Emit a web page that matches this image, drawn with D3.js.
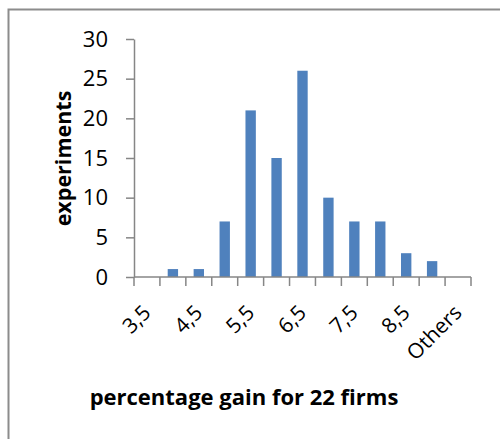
<!DOCTYPE html>
<html>
<head>
<meta charset="utf-8">
<script src="https://cdn.jsdelivr.net/npm/d3@7"></script>
<style>
  html, body { margin: 0; padding: 0; background: #fff; }
  svg { display: block; font-family: "Open Sans", "Noto Sans", sans-serif; }
</style>
</head>
<body>
<svg id="chart" width="500" height="439"></svg>
<script>
// Histogram bins (upper bounds, comma decimals) and counts per bin
const categories = ["3,5", "4", "4,5", "5", "5,5", "6", "6,5", "7", "7,5", "8", "8,5", "9", "Others"];
const counts = [0, 1, 1, 7, 21, 15, 26, 10, 7, 7, 3, 2, 0];
const yTicks = [0, 5, 10, 15, 20, 25, 30];
// Only every other bin gets a visible label
const shownLabels = ["3,5", "4,5", "5,5", "6,5", "7,5", "8,5", "Others"];

const data = categories.map((c, i) => ({ cat: c, value: counts[i] }));

const svg = d3.select("#chart");
const axisColor = "#868686";
const barColor = "#4F81BD";

// Outer chart frame
svg.append("path")
  .attr("d", "M8.5,439 L8.5,9.5 L500,9.5")
  .attr("fill", "none")
  .attr("stroke", "#8c8c8c")
  .attr("stroke-width", 2);

const plot = { left: 134, right: 471, top: 39, bottom: 277 };

const x = d3.scaleBand()
  .domain(categories)
  .range([plot.left, plot.right])
  .paddingInner(0)
  .paddingOuter(0);

const y = d3.scaleLinear()
  .domain([0, 30])
  .range([plot.bottom, plot.top]);

// Bars
const barW = x.bandwidth() * 0.4;
svg.append("g")
  .selectAll("rect")
  .data(data)
  .join("rect")
  .attr("x", d => x(d.cat) + (x.bandwidth() - barW) / 2)
  .attr("y", d => y(d.value))
  .attr("width", barW)
  .attr("height", d => y(0) - y(d.value))
  .attr("fill", barColor);

// Y axis
const yAxis = svg.append("g")
  .attr("transform", `translate(${plot.left},0)`)
  .call(d3.axisLeft(y).tickValues(yTicks).tickSize(8).tickPadding(18).tickSizeOuter(0));
yAxis.select(".domain").attr("stroke", axisColor).attr("stroke-width", 1.5);
yAxis.selectAll(".tick line").attr("stroke", axisColor).attr("stroke-width", 1.5);
yAxis.selectAll(".tick text")
  .attr("fill", "#000")
  .style("font-size", "22px")
  .style("font-family", "'Open Sans', sans-serif");

// X axis: ticks sit on bin boundaries, so draw them from the band edges
const xg = svg.append("g").attr("transform", `translate(0,${plot.bottom})`);
xg.append("line")
  .attr("x1", plot.left).attr("x2", plot.right)
  .attr("stroke", axisColor).attr("stroke-width", 1.5);
const edges = categories.map(c => x(c)).concat([x(categories[categories.length - 1]) + x.bandwidth()]);
xg.selectAll("line.tk")
  .data(edges)
  .join("line")
  .attr("class", "tk")
  .attr("x1", d => d).attr("x2", d => d)
  .attr("y1", 0).attr("y2", 9)
  .attr("stroke", axisColor).attr("stroke-width", 1.5);

// Rotated category labels
xg.selectAll("text.lbl")
  .data(categories.filter(c => shownLabels.includes(c)))
  .join("text")
  .attr("class", "lbl")
  .attr("text-anchor", "end")
  .attr("transform", d => `translate(${x(d) + x.bandwidth() / 2 + 5},${37}) rotate(-45)`)
  .attr("fill", "#000")
  .style("font-size", "21px")
  .text(d => d);

// Axis titles
svg.append("text")
  .attr("transform", "translate(71,158.5) rotate(-90)")
  .attr("text-anchor", "middle")
  .style("font-size", "21.5px")
  .style("font-weight", "bold")
  .text("experiments");

svg.append("text")
  .attr("x", 244)
  .attr("y", 405)
  .attr("text-anchor", "middle")
  .style("font-size", "22px")
  .style("font-weight", "bold")
  .text("percentage gain for 22 firms");
</script>
</body>
</html>
